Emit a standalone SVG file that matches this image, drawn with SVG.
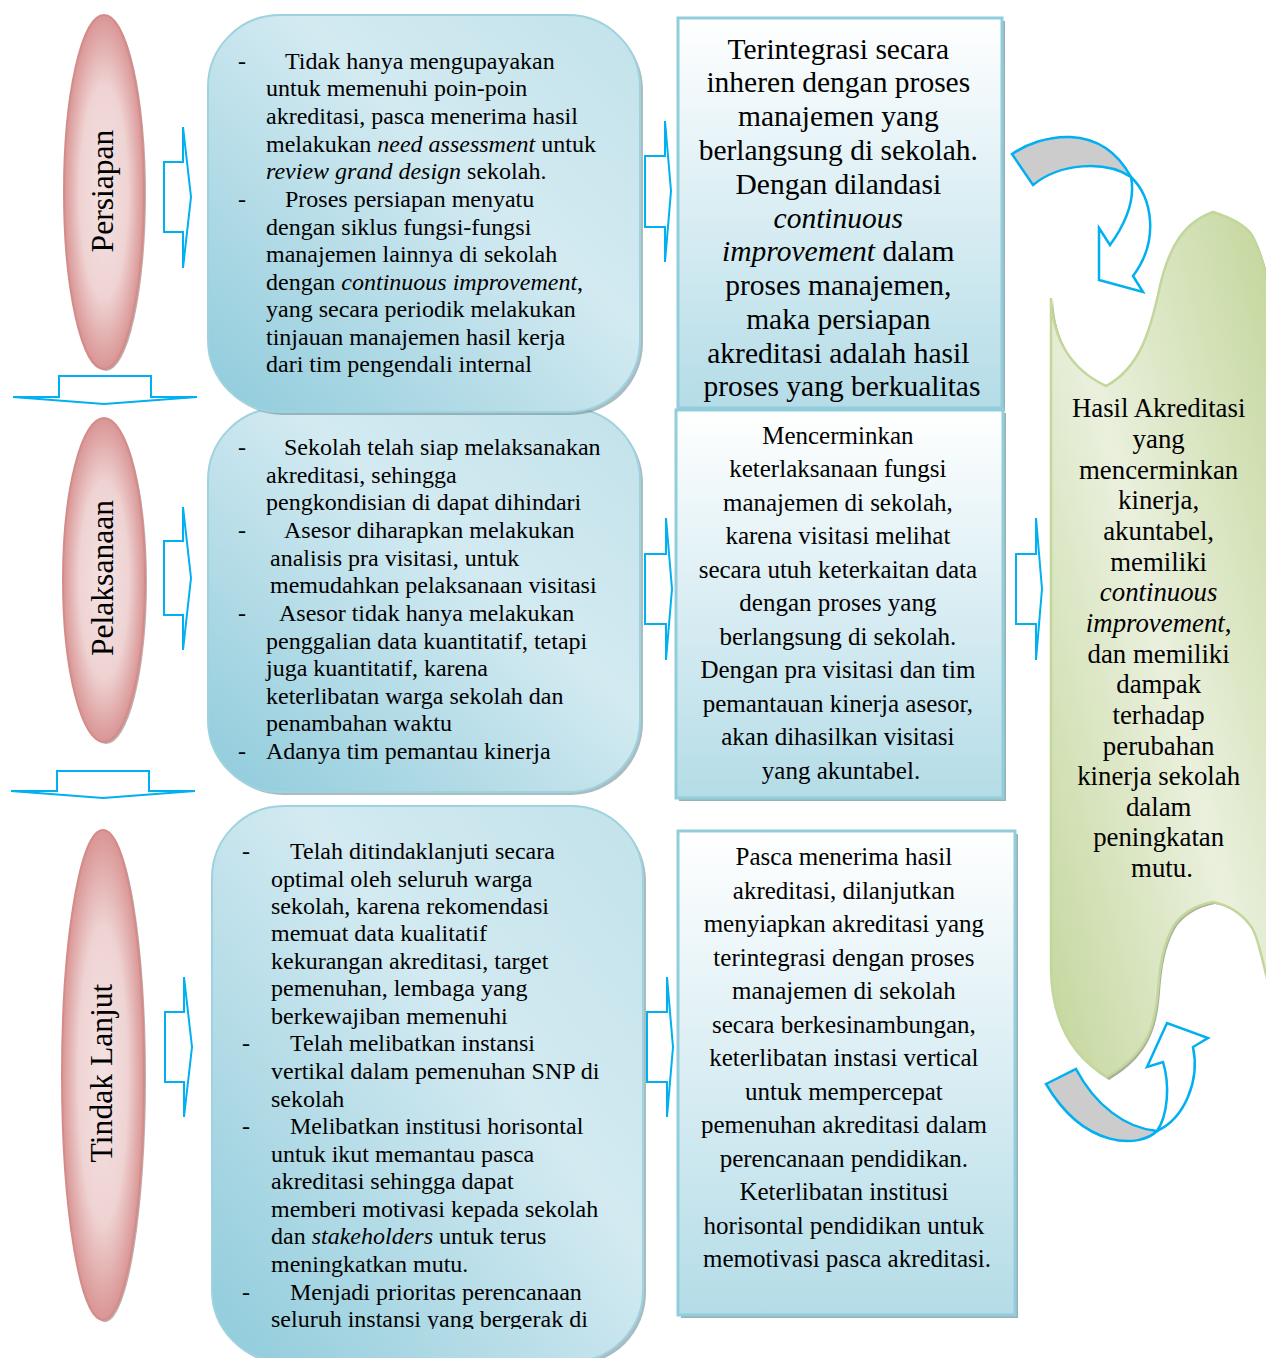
<svg xmlns="http://www.w3.org/2000/svg" width="1266" height="1358" viewBox="0 0 1266 1358">
<defs>
<radialGradient id="gPink" cx="0.5" cy="0.5" r="0.5">
<stop offset="0" stop-color="#f4e2e2"/>
<stop offset="0.6" stop-color="#efd3d3"/>
<stop offset="1" stop-color="#d99594"/>
</radialGradient>
<linearGradient id="gTeal" x1="0" y1="1" x2="1" y2="0">
<stop offset="0" stop-color="#8fcbdb"/>
<stop offset="0.6" stop-color="#d3eaf1"/>
<stop offset="1" stop-color="#c2e2ea"/>
</linearGradient>
<linearGradient id="gRect" x1="0" y1="0" x2="0" y2="1">
<stop offset="0" stop-color="#ffffff"/>
<stop offset="1" stop-color="#b4dce7"/>
</linearGradient>
<linearGradient id="gGreen" x1="1" y1="0" x2="0" y2="1">
<stop offset="0" stop-color="#c3d69b"/>
<stop offset="0.5" stop-color="#eaf0dd"/>
<stop offset="1" stop-color="#c3d69b"/>
</linearGradient>
<clipPath id="clip3"><rect x="212" y="806" width="440" height="523"/></clipPath>
<style>
.ell{fill:url(#gPink);stroke:#d48c8b;stroke-width:2}
.ellsh{fill:#8a6a6a;opacity:0.55}
.rbox{fill:url(#gTeal);stroke:#9fd2df;stroke-width:2}
.rsh{fill:#6f8f98;opacity:0.6}
.box{fill:url(#gRect);stroke:#92cddc;stroke-width:3}
.bsh{fill:#6f8f98;opacity:0.7}
.arr{fill:#ffffff;stroke:#00b0f0;stroke-width:2;stroke-linejoin:miter}
.carr{stroke:#00b0f0;stroke-width:2.5;stroke-linejoin:miter}
.t{font-family:"Liberation Serif","Times New Roman",serif;fill:#000}
.lab{font-size:31.6px;text-anchor:middle}
.m{font-size:24px}
.r1{font-size:29.5px;text-anchor:middle}
.r2{font-size:25px;text-anchor:middle}
.gr{font-size:26.8px;text-anchor:middle}
.i{font-style:italic}
</style>
</defs>

<g id="green-result">
<path d="M1053,300 C1055,342 1074,372 1108,388 C1142,370 1152,332 1160,297 C1170,247 1187,224 1215,214 C1234,220 1247,227 1254,237 C1262,252 1267,272 1272,292 L1272,992 C1264,962 1260,937 1252,927 C1242,914 1230,907 1215,904 C1197,907 1182,917 1175,929 C1165,947 1162,967 1160,992 C1157,1032 1147,1057 1109,1080 C1072,1057 1054,1022 1053,972 Z" fill="#6b7a55" opacity="0.6"/>
<path d="M1051,298 C1053,340 1072,370 1106,386 C1140,368 1150,330 1158,295 C1168,245 1185,222 1213,212 C1232,218 1245,225 1252,235 C1260,250 1265,270 1270,290 L1270,990 C1262,960 1258,935 1250,925 C1240,912 1228,905 1213,902 C1195,905 1180,915 1173,927 C1163,945 1160,965 1158,990 C1155,1030 1145,1055 1107,1077 C1070,1055 1052,1020 1051,970 Z" fill="url(#gGreen)" stroke="#c3d69b" stroke-width="2.5"/>
<text class="t gr">
<tspan x="1162" y="417">Hasil Akreditasi</tspan>
<tspan x="1162" y="448">yang</tspan>
<tspan x="1162" y="479">mencerminkan</tspan>
<tspan x="1162" y="509">kinerja,</tspan>
<tspan x="1162" y="540">akuntabel,</tspan>
<tspan x="1162" y="571">memiliki</tspan>
<tspan x="1162" y="601" class="i">continuous</tspan>
<tspan x="1162" y="632"><tspan class="i">improvement</tspan>,</tspan>
<tspan x="1162" y="663">dan memiliki</tspan>
<tspan x="1162" y="693">dampak</tspan>
<tspan x="1162" y="724">terhadap</tspan>
<tspan x="1162" y="755">perubahan</tspan>
<tspan x="1162" y="785">kinerja sekolah</tspan>
<tspan x="1162" y="816">dalam</tspan>
<tspan x="1162" y="846">peningkatan</tspan>
<tspan x="1162" y="877">mutu.</tspan>
</text>
</g>

<g id="persiapan">
<ellipse class="ellsh" cx="106" cy="194" rx="40" ry="177"/>
<ellipse class="ell" cx="104" cy="192" rx="40" ry="177"/>
<text class="t lab" transform="translate(113,191) rotate(-90)">Persiapan</text>
</g>
<g id="pelaksanaan">
<ellipse class="ellsh" cx="106" cy="582" rx="41" ry="162"/>
<ellipse class="ell" cx="104" cy="580" rx="41" ry="162"/>
<text class="t lab" transform="translate(113,578) rotate(-90)">Pelaksanaan</text>
</g>
<g id="tindak-lanjut">
<ellipse class="ellsh" cx="105" cy="1077" rx="41" ry="245"/>
<ellipse class="ell" cx="103" cy="1075" rx="41" ry="245"/>
<text class="t lab" transform="translate(112,1073) rotate(-90)">Tindak Lanjut</text>
</g>

<g id="box-pelaksanaan">
<rect class="rsh" x="211" y="411" width="432" height="384" rx="72"/>
<rect class="rbox" x="208" y="408" width="432" height="384" rx="72"/>
<text class="t m">
<tspan x="238" y="455">-</tspan><tspan x="284" y="455">Sekolah telah siap melaksanakan</tspan>
<tspan x="266" y="483">akreditasi, sehingga</tspan>
<tspan x="266" y="510">pengkondisian di dapat dihindari</tspan>
<tspan x="238" y="538">-</tspan><tspan x="284" y="538">Asesor diharapkan melakukan</tspan>
<tspan x="270" y="566">analisis pra visitasi, untuk</tspan>
<tspan x="270" y="593">memudahkan pelaksanaan visitasi</tspan>
<tspan x="238" y="621">-</tspan><tspan x="279" y="621">Asesor tidak hanya melakukan</tspan>
<tspan x="266" y="649">penggalian data kuantitatif, tetapi</tspan>
<tspan x="266" y="676">juga kuantitatif, karena</tspan>
<tspan x="266" y="704">keterlibatan warga sekolah dan</tspan>
<tspan x="266" y="731">penambahan waktu</tspan>
<tspan x="238" y="759">-</tspan><tspan x="266" y="759">Adanya tim pemantau kinerja</tspan>
</text>
</g>

<g id="box-persiapan">
<rect class="rsh" x="211" y="18" width="432" height="397" rx="72"/>
<rect class="rbox" x="208" y="15" width="432" height="397" rx="72"/>
<text class="t m">
<tspan x="238" y="69">-</tspan><tspan x="285" y="69">Tidak hanya mengupayakan</tspan>
<tspan x="266" y="96">untuk memenuhi poin-poin</tspan>
<tspan x="266" y="124">akreditasi, pasca menerima hasil</tspan>
<tspan x="266" y="152">melakukan <tspan class="i">need assessment</tspan> untuk</tspan>
<tspan x="266" y="179"><tspan class="i">review grand design</tspan> sekolah.</tspan>
<tspan x="238" y="207">-</tspan><tspan x="285" y="207">Proses persiapan menyatu</tspan>
<tspan x="266" y="235">dengan siklus fungsi-fungsi</tspan>
<tspan x="266" y="262">manajemen lainnya di sekolah</tspan>
<tspan x="266" y="290">dengan <tspan class="i">continuous improvement</tspan>,</tspan>
<tspan x="266" y="317">yang secara periodik melakukan</tspan>
<tspan x="266" y="345">tinjauan manajemen hasil kerja</tspan>
<tspan x="266" y="372">dari tim pengendali internal</tspan>
</text>
</g>

<g id="box-tindak-lanjut">
<rect class="rsh" x="215" y="809" width="431" height="556" rx="72"/>
<rect class="rbox" x="212" y="806" width="431" height="556" rx="72"/>
<text class="t m" clip-path="url(#clip3)">
<tspan x="242" y="859">-</tspan><tspan x="290" y="859">Telah ditindaklanjuti secara</tspan>
<tspan x="271" y="887">optimal oleh seluruh warga</tspan>
<tspan x="271" y="914">sekolah, karena rekomendasi</tspan>
<tspan x="271" y="941">memuat data kualitatif</tspan>
<tspan x="271" y="969">kekurangan akreditasi, target</tspan>
<tspan x="271" y="996">pemenuhan, lembaga yang</tspan>
<tspan x="271" y="1024">berkewajiban memenuhi</tspan>
<tspan x="242" y="1051">-</tspan><tspan x="290" y="1051">Telah melibatkan instansi</tspan>
<tspan x="271" y="1079">vertikal dalam pemenuhan SNP di</tspan>
<tspan x="271" y="1107">sekolah</tspan>
<tspan x="242" y="1134">-</tspan><tspan x="290" y="1134">Melibatkan institusi horisontal</tspan>
<tspan x="271" y="1162">untuk ikut memantau pasca</tspan>
<tspan x="271" y="1189">akreditasi sehingga dapat</tspan>
<tspan x="271" y="1217">memberi motivasi kepada sekolah</tspan>
<tspan x="271" y="1244">dan <tspan class="i">stakeholders</tspan> untuk terus</tspan>
<tspan x="271" y="1272">meningkatkan mutu.</tspan>
<tspan x="242" y="1300">-</tspan><tspan x="290" y="1300">Menjadi prioritas perencanaan</tspan>
<tspan x="271" y="1327">seluruh instansi yang bergerak di</tspan>
</text>
</g>

<g id="result-persiapan">
<rect class="bsh" x="681" y="21" width="324" height="390"/>
<rect class="box" x="678" y="18" width="324" height="390"/>
<text class="t r1">
<tspan x="842" y="59">Terintegrasi secara</tspan>
<tspan x="842" y="92">inheren dengan proses</tspan>
<tspan x="842" y="126">manajemen yang</tspan>
<tspan x="842" y="160">berlangsung di sekolah.</tspan>
<tspan x="842" y="194">Dengan dilandasi</tspan>
<tspan x="842" y="228" class="i">continuous</tspan>
<tspan x="842" y="261"><tspan class="i">improvement</tspan> dalam</tspan>
<tspan x="842" y="295">proses manajemen,</tspan>
<tspan x="842" y="329">maka persiapan</tspan>
<tspan x="842" y="363">akreditasi adalah hasil</tspan>
<tspan x="842" y="396">proses yang berkualitas</tspan>
</text>
</g>

<g id="result-pelaksanaan">
<rect class="bsh" x="679" y="413" width="327" height="388"/>
<rect class="box" x="676" y="410" width="327" height="388"/>
<text class="t r2">
<tspan x="841" y="444">Mencerminkan</tspan>
<tspan x="841" y="477">keterlaksanaan  fungsi</tspan>
<tspan x="841" y="511">manajemen di sekolah,</tspan>
<tspan x="841" y="544">karena visitasi melihat</tspan>
<tspan x="841" y="578">secara utuh keterkaitan data</tspan>
<tspan x="841" y="611">dengan proses yang</tspan>
<tspan x="841" y="645">berlangsung di sekolah.</tspan>
<tspan x="841" y="678">Dengan pra visitasi dan tim</tspan>
<tspan x="841" y="712">pemantauan kinerja asesor,</tspan>
<tspan x="841" y="745">akan dihasilkan visitasi</tspan>
<tspan x="841" y="779">yang akuntabel.</tspan>
</text>
</g>

<g id="result-tindak-lanjut">
<rect class="bsh" x="681" y="834" width="337" height="484"/>
<rect class="box" x="678" y="831" width="337" height="484"/>
<text class="t r2">
<tspan x="847" y="865">Pasca menerima hasil</tspan>
<tspan x="847" y="899">akreditasi, dilanjutkan</tspan>
<tspan x="847" y="932">menyiapkan akreditasi yang</tspan>
<tspan x="847" y="966">terintegrasi dengan proses</tspan>
<tspan x="847" y="999">manajemen di sekolah</tspan>
<tspan x="847" y="1033">secara berkesinambungan,</tspan>
<tspan x="847" y="1066">keterlibatan instasi vertical</tspan>
<tspan x="847" y="1100">untuk mempercepat</tspan>
<tspan x="847" y="1133">pemenuhan akreditasi dalam</tspan>
<tspan x="847" y="1167">perencanaan pendidikan.</tspan>
<tspan x="847" y="1200">Keterlibatan institusi</tspan>
<tspan x="847" y="1234">horisontal pendidikan untuk</tspan>
<tspan x="847" y="1267">memotivasi pasca akreditasi.</tspan>
</text>
</g>

<g id="connectors">
<path class="arr" d="M164,162 L183,162 L183,127 L191,197 L183,268 L183,232 L164,232 Z"/>
<path class="arr" d="M164,541 L183,541 L183,507 L191,578 L183,650 L183,615 L164,615 Z"/>
<path class="arr" d="M165,1012 L184,1012 L184,977 L192,1047 L184,1117 L184,1082 L165,1082 Z"/>
<path class="arr" d="M645,156 L665,156 L665,121 L671,191 L665,262 L665,227 L645,227 Z"/>
<path class="arr" d="M645,554 L666,554 L666,518 L672,589 L666,660 L666,624 L645,624 Z"/>
<path class="arr" d="M647,1012 L667,1012 L667,977 L673,1047 L667,1117 L667,1082 L647,1082 Z"/>
<path class="arr" d="M1016,554 L1036,554 L1036,518 L1042,589 L1036,660 L1036,624 L1016,624 Z"/>
<path class="arr" d="M59,376 L151,376 L151,397 L197,397 L104,404 L13,397 L59,397 Z"/>
<path class="arr" d="M57,771 L149,771 L149,791 L195,791 L103,798 L11,791 L57,791 Z"/>
<path class="carr" fill="#cccccc" d="M1012,154 C1040,135 1100,120 1131,177 C1105,160 1060,163 1033,185 Z"/>
<path class="carr" fill="#ffffff" d="M1131,177 C1152,197 1160,240 1133,276 L1143,292 L1099,280 L1099,228 L1110,245 C1128,220 1135,197 1131,177 Z"/>
<path class="carr" fill="#cccccc" d="M1046,1084 L1076,1069 C1095,1105 1125,1128 1157,1131 C1140,1148 1085,1150 1046,1084 Z"/>
<path class="carr" fill="#ffffff" d="M1157,1131 C1185,1118 1200,1080 1193,1047 L1208,1038 L1167,1023 L1147,1067 L1163,1062 C1170,1085 1168,1115 1157,1131 Z"/>
</g>
</svg>
